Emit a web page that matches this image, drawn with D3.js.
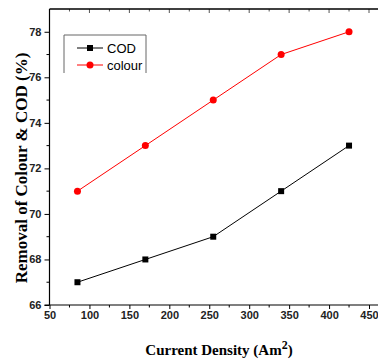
<!DOCTYPE html>
<html><head><meta charset="utf-8">
<script src="https://cdn.jsdelivr.net/npm/d3@7"></script>
<style>body{margin:0;background:#fff}svg{display:block}</style>
</head><body>
<script>
const currentDensity = [85, 170, 255, 340, 425];
const codValues = [67, 68, 69, 71, 73];
const colourValues = [71, 73, 75, 77, 78];
const xTicks = [50, 100, 150, 200, 250, 300, 350, 400, 450];
const yTicks = [66, 68, 70, 72, 74, 76, 78];
const seriesNames = ["COD", "colour"];

const W = 378, H = 360;
const L = 49.5, T = 9, R = 369, B = 305;
const svg = d3.select("body").append("svg").attr("width", W).attr("height", H);

const x = d3.scaleLinear().domain([50, 450]).range([L, R]);
const y = d3.scaleLinear().domain([66, 79]).range([B, T]);

const tickFont = "'Liberation Sans Narrow','Arial Narrow','Liberation Sans',Arial,sans-serif";

const xMinor = d3.range(75, 476, 50);
const yMinor = d3.range(67, 79, 2);

// bottom axis
const gx = svg.append("g").attr("transform", `translate(0,${B})`)
  .call(d3.axisBottom(x).tickValues(xTicks).tickSize(4).tickPadding(2).tickFormat(d3.format("d")));
gx.select(".domain").remove();
gx.selectAll("text").attr("font-family", tickFont).attr("font-weight", "bold").attr("font-size", 11).attr("fill", "#222");
svg.append("g").selectAll("line").data(xMinor).join("line")
  .attr("x1", d => x(d)).attr("x2", d => x(d)).attr("y1", B).attr("y2", B + 2.5).attr("stroke", "#000");

// left axis
const gy = svg.append("g").attr("transform", `translate(${L},0)`)
  .call(d3.axisLeft(y).tickValues(yTicks).tickSize(5).tickPadding(3).tickFormat(d3.format("d")));
gy.select(".domain").remove();
gy.selectAll("text").attr("font-family", tickFont).attr("font-weight", "bold").attr("font-size", 11).attr("fill", "#222");
svg.append("g").selectAll("line").data(yMinor).join("line")
  .attr("x1", L - 3).attr("x2", L).attr("y1", d => y(d)).attr("y2", d => y(d)).attr("stroke", "#000");

// top ticks (inward)
svg.append("g").selectAll("line").data(xTicks.concat(xMinor)).join("line")
  .attr("x1", d => x(d)).attr("x2", d => x(d)).attr("y1", T).attr("y2", d => T + (d % 50 === 0 ? 4 : 2.5)).attr("stroke", "#555");

// frame lines
svg.append("line").attr("x1", L).attr("x2", W).attr("y1", T).attr("y2", T).attr("stroke", "#000").attr("stroke-width", 1.5);
svg.append("line").attr("x1", L - 5).attr("x2", W).attr("y1", B).attr("y2", B).attr("stroke", "#000").attr("stroke-width", 1.2);
svg.append("line").attr("x1", L).attr("x2", L).attr("y1", T).attr("y2", B).attr("stroke", "#000").attr("stroke-width", 1.2);

// series
const line = d3.line().x(d => x(d[0])).y(d => y(d[1]));
const cod = currentDensity.map((c, i) => [c, codValues[i]]);
const col = currentDensity.map((c, i) => [c, colourValues[i]]);
svg.append("path").datum(cod).attr("d", line).attr("fill", "none").attr("stroke", "#000").attr("stroke-width", 1);
svg.append("path").datum(col).attr("d", line).attr("fill", "none").attr("stroke", "#ff0000").attr("stroke-width", 1);
svg.append("g").selectAll("rect").data(cod).join("rect")
  .attr("x", d => x(d[0]) - 3).attr("y", d => y(d[1]) - 3).attr("width", 6).attr("height", 6).attr("fill", "#000");
svg.append("g").selectAll("circle").data(col).join("circle")
  .attr("cx", d => x(d[0])).attr("cy", d => y(d[1])).attr("r", 3.5).attr("fill", "#ff0000");

// legend
const lg = svg.append("g");
lg.append("path").attr("d", "M64,73V35H146V73").attr("fill", "none").attr("stroke", "#666").attr("stroke-width", 1);
const legY = [48, 65];
const legColors = ["#000", "#ff0000"];
seriesNames.forEach((n, i) => {
  lg.append("line").attr("x1", 77).attr("x2", 103).attr("y1", legY[i]).attr("y2", legY[i]).attr("stroke", legColors[i]).attr("stroke-width", 1);
  if (i === 0) lg.append("rect").attr("x", 87).attr("y", legY[i] - 3).attr("width", 6).attr("height", 6).attr("fill", "#000");
  else lg.append("circle").attr("cx", 90).attr("cy", legY[i]).attr("r", 3.5).attr("fill", "#ff0000");
  lg.append("text").attr("x", 107).attr("y", legY[i] + 4.5).attr("font-family", "'Liberation Sans',Arial,sans-serif").attr("font-size", 13).attr("fill", "#000").text(n);
});

// axis titles
const serif = "'Liberation Serif','Times New Roman',serif";
const xt = svg.append("text").attr("x", 219).attr("y", 355).attr("text-anchor", "middle")
  .attr("font-family", serif).attr("font-weight", "bold").attr("font-size", 15).attr("fill", "#000");
xt.append("tspan").text("Current Density (Am");
xt.append("tspan").attr("dy", -6).attr("font-size", 12).text("2");
xt.append("tspan").attr("dy", 6).text(")");

svg.append("text").attr("transform", "translate(27,168) rotate(-90)").attr("text-anchor", "middle")
  .attr("font-family", serif).attr("font-weight", "bold").attr("font-size", 17).attr("fill", "#000")
  .text("Removal of Colour & COD (%)");
</script>
</body></html>
